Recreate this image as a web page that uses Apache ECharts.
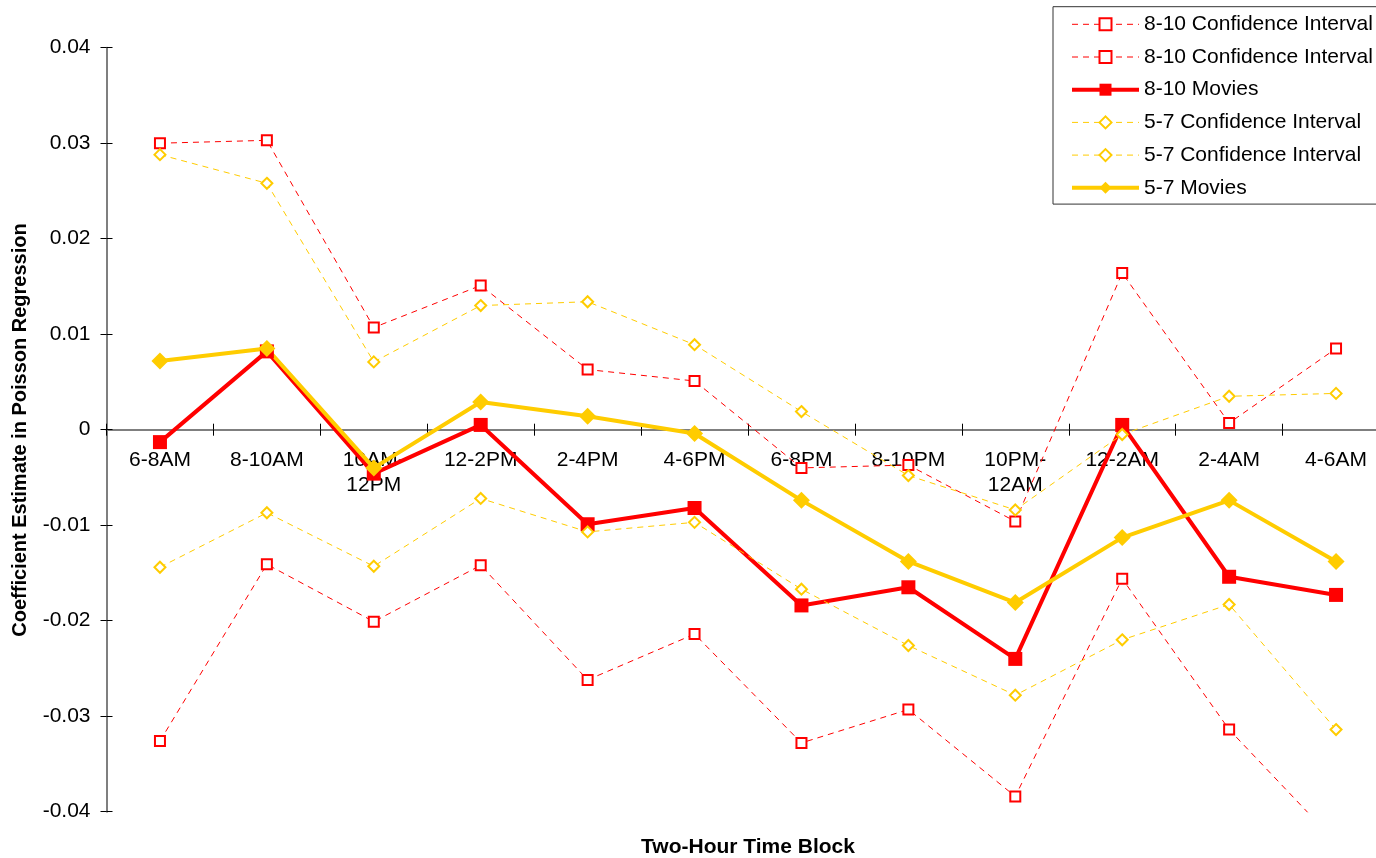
<!DOCTYPE html>
<html>
<head>
<meta charset="utf-8">
<script src="https://cdn.jsdelivr.net/npm/echarts@6/dist/echarts.min.js"></script>
<style>
  html, body { margin: 0; padding: 0; background: #ffffff; }
  #chart { width: 1376px; height: 858px; }
</style>
</head>
<body>
<div id="chart"></div>
<script>
// Two-hour time blocks on the category axis
const timeBlocks = ['6-8AM', '8-10AM', '10AM-12PM', '12-2PM', '2-4PM', '4-6PM',
                    '6-8PM', '8-10PM', '10PM-12AM', '12-2AM', '2-4AM', '4-6AM'];

// 8-10 movies: coefficient estimate and its confidence bounds
const ci810Upper = [0.0300, 0.0303, 0.0107, 0.0151, 0.0063, 0.0051, -0.0040, -0.0037, -0.0096, 0.0164, 0.0007, 0.0085];
const ci810Lower = [-0.0326, -0.0141, -0.0201, -0.0142, -0.0262, -0.0214, -0.0328, -0.0293, -0.0384, -0.0156, -0.0314, -0.0432];
const movies810  = [-0.0013, 0.0082, -0.0046, 0.0005, -0.0099, -0.0082, -0.0184, -0.0165, -0.0240, 0.0005, -0.0154, -0.0173];

// 5-7 movies: coefficient estimate and its confidence bounds
const ci57Upper = [0.0288, 0.0258, 0.0071, 0.0130, 0.0134, 0.0089, 0.0019, -0.0048, -0.0084, -0.0005, 0.0035, 0.0038];
const ci57Lower = [-0.0144, -0.0087, -0.0143, -0.0072, -0.0107, -0.0097, -0.0167, -0.0226, -0.0278, -0.0220, -0.0183, -0.0314];
const movies57  = [0.0072, 0.0085, -0.0040, 0.0029, 0.0014, -0.0004, -0.0074, -0.0138, -0.0181, -0.0113, -0.0074, -0.0138];

// Value axis range
const yMin = -0.04;
const yMax = 0.04;
const yStep = 0.01;

const RED = '#ff0000';
const GOLD = '#ffcc00';
const FONT = '"Liberation Sans", Arial, sans-serif';

// Plot area in pixels
const GRID = { left: 106.5, right: -13.5, top: 47.7, bottom: 46.3 };
const CHART_H = 858;
const plotH = CHART_H - GRID.top - GRID.bottom;
// the category axis crosses the value axis at 0
const zeroOffset = -plotH * (0 - yMin) / (yMax - yMin);

function ciSeries(name, data, color, symbol, size) {
  return {
    name: name,
    type: 'line',
    data: data,
    xAxisIndex: 0,
    yAxisIndex: 0,
    symbol: symbol,
    symbolSize: size,
    clip: true,
    lineStyle: { color: color, width: 1, type: [6, 5] },
    itemStyle: { color: '#ffffff', borderColor: color, borderWidth: 2 },
    emphasis: { disabled: true }
  };
}

function estimateSeries(name, data, color, symbol, size) {
  return {
    name: name,
    type: 'line',
    data: data,
    xAxisIndex: 0,
    yAxisIndex: 0,
    symbol: symbol,
    symbolSize: size,
    clip: true,
    lineStyle: { color: color, width: 4 },
    itemStyle: { color: color, borderWidth: 0 },
    emphasis: { disabled: true }
  };
}

// Legend shows the two confidence bounds as separate rows with the same label
const names = [
  '8-10 Confidence Interval', '8-10 Confidence Interval ', '8-10 Movies',
  '5-7 Confidence Interval', '5-7 Confidence Interval ', '5-7 Movies'
];

const legendItems = names.map(n => (
  /Movies/.test(n)
    ? { name: n, lineStyle: { width: 4 } }
    : { name: n, lineStyle: { width: 1 } }
));

const chart = echarts.init(document.getElementById('chart'), null, { renderer: 'canvas' });

const tickFmt = v => String(+(+v).toFixed(2));

const catAxisBase = {
  type: 'category',
  data: timeBlocks,
  position: 'bottom',
  offset: zeroOffset,
  boundaryGap: true,
  splitLine: { show: false }
};

chart.setOption({
  animation: false,
  backgroundColor: '#ffffff',
  grid: {
    left: GRID.left,
    right: GRID.right,
    top: GRID.top,
    bottom: GRID.bottom,
    containLabel: false,
    outerBoundsMode: 'none'
  },
  legend: {
    orient: 'vertical',
    left: 1053,
    top: 6.7,
    data: legendItems,
    formatter: n => n.trim(),
    selectedMode: false,
    itemWidth: 67,
    itemHeight: 15,
    itemGap: 7.7,
    padding: [5.1, 8, 3.8, 17],
    borderColor: '#333333',
    borderWidth: 1,
    backgroundColor: '#ffffff',
    textStyle: { fontFamily: FONT, fontSize: 21, color: '#000000', lineHeight: 25 }
  },
  xAxis: [
    Object.assign({}, catAxisBase, {
      axisLine: { show: true, onZero: false, lineStyle: { color: '#7f7f7f', width: 2 } },
      axisTick: { show: true, inside: false, length: 6, interval: 0, lineStyle: { color: '#000000', width: 1 } },
      axisLabel: {
        interval: 0,
        margin: 18,
        fontFamily: FONT,
        fontSize: 21,
        color: '#000000',
        lineHeight: 25,
        formatter: v => (v.length > 7 ? v.replace('-', '-\n') : v)
      }
    }),
    Object.assign({}, catAxisBase, {
      // inner half of the crossing tick marks
      axisLine: { show: false, onZero: false },
      axisTick: { show: true, inside: true, length: 6, interval: 0, lineStyle: { color: '#000000', width: 1 } },
      axisLabel: { show: false }
    })
  ],
  yAxis: [
    {
      type: 'value',
      min: yMin,
      max: yMax,
      interval: yStep,
      position: 'left',
      axisLine: { show: true, onZero: false, lineStyle: { color: '#7f7f7f', width: 2 } },
      axisTick: { show: true, inside: false, length: 6, lineStyle: { color: '#000000', width: 1 } },
      axisLabel: { margin: 16, fontFamily: FONT, fontSize: 21, color: '#000000', formatter: tickFmt },
      splitLine: { show: false }
    },
    {
      type: 'value',
      min: yMin,
      max: yMax,
      interval: yStep,
      position: 'left',
      axisLine: { show: false, onZero: false },
      axisTick: { show: true, inside: true, length: 6, lineStyle: { color: '#000000', width: 1 } },
      axisLabel: { show: false },
      splitLine: { show: false }
    }
  ],
  graphic: [
    {
      type: 'text',
      x: 748,
      y: 847,
      style: {
        text: 'Two-Hour Time Block',
        fontFamily: FONT,
        fontSize: 21,
        fontWeight: 'bold',
        fill: '#000000',
        align: 'center',
        verticalAlign: 'middle'
      }
    },
    {
      type: 'text',
      x: 20,
      y: 430,
      rotation: Math.PI / 2,
      style: {
        text: 'Coefficient Estimate in Poisson Regression',
        fontFamily: FONT,
        fontSize: 20,
        fontWeight: 'bold',
        fill: '#000000',
        align: 'center',
        verticalAlign: 'middle'
      }
    }
  ],
  series: [
    ciSeries(names[0], ci810Upper, RED, 'rect', 10),
    ciSeries(names[1], ci810Lower, RED, 'rect', 10),
    estimateSeries(names[2], movies810, RED, 'rect', 14),
    ciSeries(names[3], ci57Upper, GOLD, 'diamond', 11),
    ciSeries(names[4], ci57Lower, GOLD, 'diamond', 11),
    estimateSeries(names[5], movies57, GOLD, 'diamond', 17)
  ]
});
</script>
</body>
</html>
